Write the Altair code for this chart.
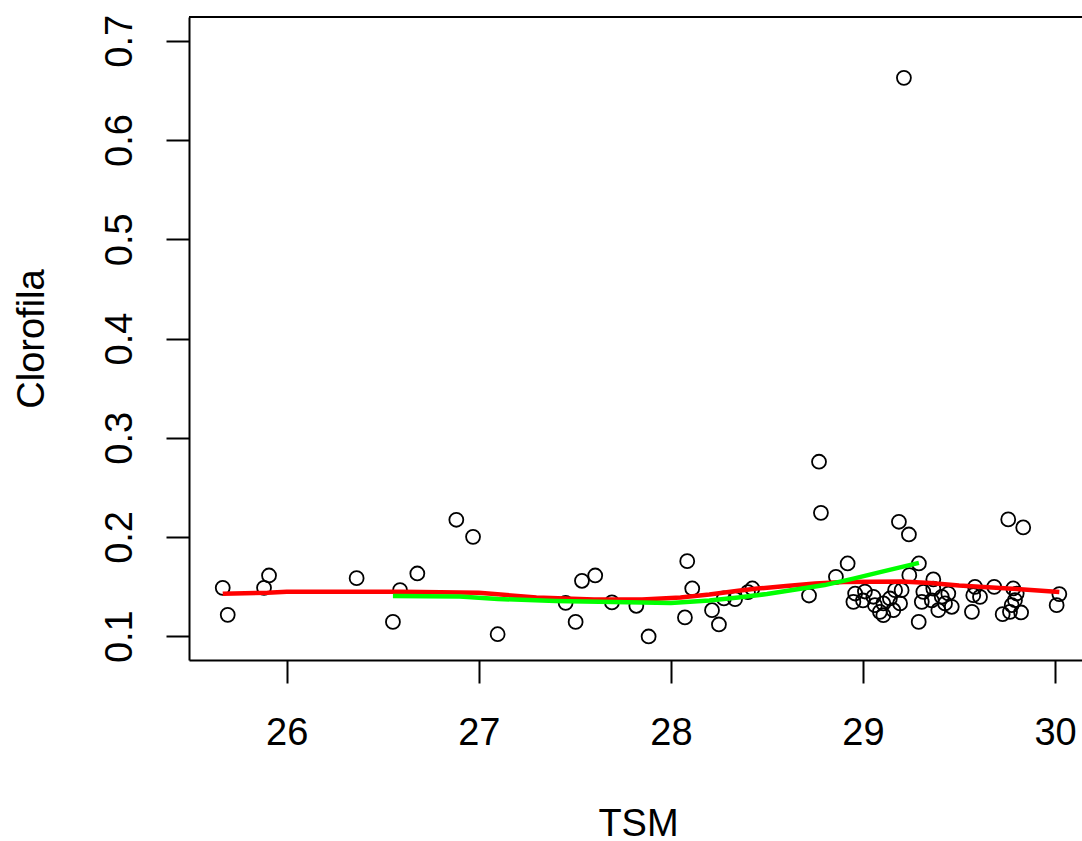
import altair as alt
import pandas as pd

# Scatter data: TSM (x) vs Clorofila (y)
tsm = [25.667, 25.693, 25.882, 25.908, 26.364, 26.553, 26.590, 26.680, 26.883, 26.970,
       27.098, 27.452, 27.504, 27.537, 27.606, 27.693, 27.820, 27.884, 28.073, 28.085,
       28.111, 28.214, 28.250, 28.276, 28.334, 28.401, 28.424, 28.719, 28.771, 28.781,
       28.859, 28.920, 28.959, 28.950, 29.010, 29.000, 29.054, 29.062, 29.088, 29.106,
       29.140, 29.158, 29.193, 29.201, 29.167, 29.106, 29.187, 29.239, 29.291, 29.241,
       29.290, 29.366, 29.314, 29.366, 29.306, 29.358, 29.410, 29.427, 29.392, 29.462,
       29.444, 29.583, 29.574, 29.609, 29.567, 29.683, 29.782, 29.765, 29.727, 29.823,
       29.791, 29.800, 29.774, 29.756, 29.834, 30.022, 30.008, 29.213]
clorofila = [0.1487, 0.1215, 0.1487, 0.1612, 0.1585, 0.1144, 0.1464, 0.1632, 0.2173, 0.2001,
             0.1020, 0.1336, 0.1144, 0.1558, 0.1612, 0.1340, 0.1306, 0.0997, 0.1189, 0.1756,
             0.1481, 0.1262, 0.1118, 0.1380, 0.1373, 0.1444, 0.1481, 0.1410, 0.2758, 0.2243,
             0.1598, 0.1733, 0.1430, 0.1346, 0.1450, 0.1360, 0.1397, 0.1313, 0.1245, 0.1330,
             0.1380, 0.1262, 0.1330, 0.1464, 0.1464, 0.1212, 0.2153, 0.2025, 0.1733, 0.1615,
             0.1144, 0.1572, 0.1447, 0.1480, 0.1346, 0.1360, 0.1397, 0.1330, 0.1262, 0.1296,
             0.1430, 0.1497, 0.1413, 0.1396, 0.1245, 0.1497, 0.1481, 0.1245, 0.1222, 0.1239,
             0.1363, 0.1430, 0.1313, 0.2177, 0.2096, 0.1424, 0.1313, 0.6627]

# Red smoothing line
red_x = [25.667, 25.90, 26.00, 26.60, 27.00, 27.30, 27.60, 27.85, 28.05, 28.20,
         28.35, 28.45, 28.60, 28.75, 28.90, 29.20, 29.35, 29.50, 29.80, 30.022]
red_y = [0.1427, 0.1437, 0.1447, 0.1447, 0.1437, 0.1390, 0.1370, 0.1370, 0.1390, 0.1420,
         0.1457, 0.1480, 0.1505, 0.1530, 0.1545, 0.1550, 0.1535, 0.1510, 0.1475, 0.1445]

# Green smoothing line
green_x = [26.553, 26.90, 27.10, 27.40, 27.70, 28.00, 28.20, 28.35, 28.50, 28.65,
           28.80, 28.95, 29.10, 29.291]
green_y = [0.1405, 0.1400, 0.1375, 0.1355, 0.1345, 0.1335, 0.1360, 0.1390, 0.1425, 0.1470,
           0.1515, 0.1580, 0.1650, 0.1739]

x_ticks = [26, 27, 28, 29, 30]
y_ticks = [0.1, 0.2, 0.3, 0.4, 0.5, 0.6, 0.7]

pts = pd.DataFrame({"TSM": tsm, "Clorofila": clorofila})
red = pd.DataFrame({"TSM": red_x, "Clorofila": red_y, "o": list(range(len(red_x)))})
green = pd.DataFrame({"TSM": green_x, "Clorofila": green_y, "o": list(range(len(green_x)))})

FONT = "Liberation Sans"
W, H = 893, 643

xscale = alt.Scale(domain=[25.4914, 30.14], nice=False, zero=False)
yscale = alt.Scale(domain=[0.076, 0.724], nice=False, zero=False)

xaxis = alt.Axis(
    values=x_ticks, format="d", title="TSM", grid=False,
    tickSize=23, tickWidth=2, tickColor="#000", domainColor="#000", domainWidth=2,
    labelFont=FONT, labelFontSize=38, labelColor="#000", labelPadding=31,
    labelBaseline="top", labelAlign="center", labelFlush=False, labelOverlap=False,
    titleFont=FONT, titleFontSize=38, titleFontWeight="normal", titleColor="#000",
    titleX=449, titleY=175, titleBaseline="alphabetic", titleAlign="center",
)
yaxis = alt.Axis(
    values=y_ticks, format=".1f", title="Clorofila", grid=False,
    tickSize=23, tickWidth=2, tickColor="#000", domainColor="#000", domainWidth=2,
    labelFont=FONT, labelFontSize=38, labelColor="#000", labelPadding=46,
    labelAngle=270, labelAlign="center", labelBaseline="middle",
    labelFlush=False, labelOverlap=False,
    titleFont=FONT, titleFontSize=38, titleFontWeight="normal", titleColor="#000",
    titleAngle=270, titleX=-146, titleY=321.5, titleBaseline="alphabetic", titleAlign="center",
)

points = alt.Chart(pts).mark_point(
    shape="circle", filled=False, color="#000", size=195, strokeWidth=1.8, opacity=1
).encode(
    x=alt.X("TSM:Q", scale=xscale, axis=xaxis),
    y=alt.Y("Clorofila:Q", scale=yscale, axis=yaxis),
)

red_line = alt.Chart(red).mark_line(color="#FF0000", strokeWidth=4.5).encode(
    x=alt.X("TSM:Q", scale=xscale),
    y=alt.Y("Clorofila:Q", scale=yscale),
    order="o:Q",
)

green_line = alt.Chart(green).mark_line(color="#00FF00", strokeWidth=4.5).encode(
    x=alt.X("TSM:Q", scale=xscale),
    y=alt.Y("Clorofila:Q", scale=yscale),
    order="o:Q",
)

top_frame = alt.Chart(pd.DataFrame({"a": [0]})).mark_rule(color="#000", strokeWidth=2).encode(
    x=alt.value(0), x2=alt.value(W), y=alt.value(0)
)

chart = alt.layer(points, red_line, green_line, top_frame).properties(
    width=W, height=H,
    autosize=alt.AutoSizeParams(type="none"),
    padding={"left": 189, "top": 17, "right": 0, "bottom": 181},
    background="white",
).configure_view(stroke=None)

chart.save("out.html", embed_options={"renderer": "svg", "actions": False})
